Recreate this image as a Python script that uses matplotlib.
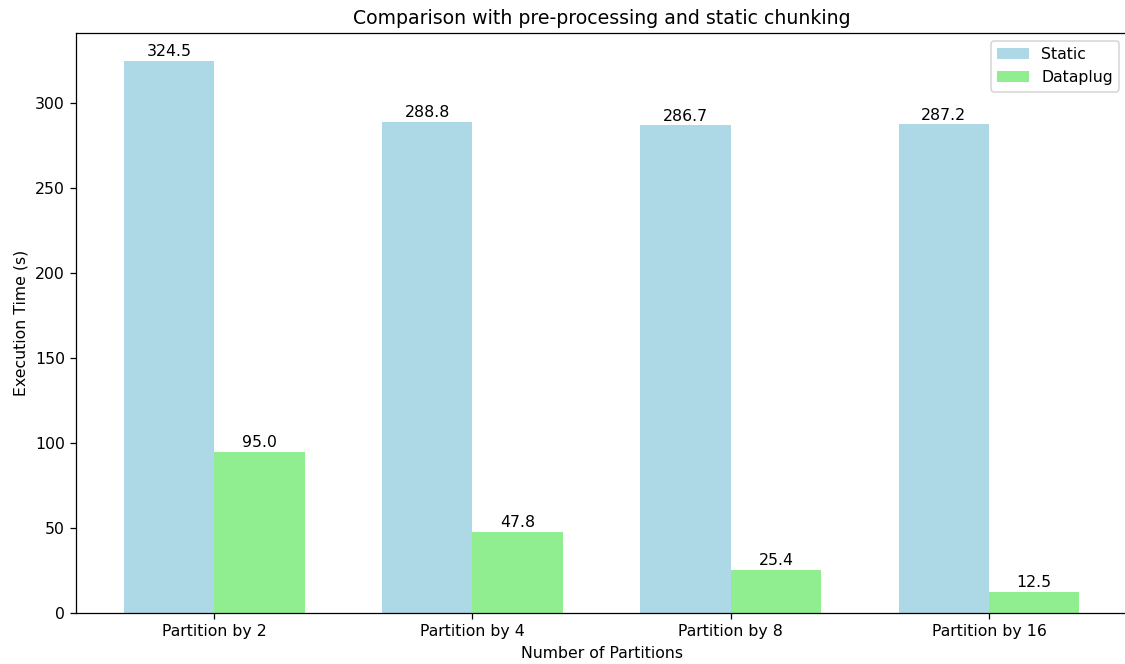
import numpy as np
import matplotlib.pyplot as plt

partitions = ['Partition by 2', 'Partition by 4', 'Partition by 8', 'Partition by 16']
static_times = [324.5, 288.8, 286.7, 287.2]
dataplug_times = [95.0, 47.8, 25.4, 12.5]

x = np.arange(len(partitions))
width = 0.35

fig, ax = plt.subplots(figsize=(1125 / 113.5, 664 / 113.5), dpi=113.5)
b1 = ax.bar(x - width / 2, static_times, width, label='Static', color='lightblue')
b2 = ax.bar(x + width / 2, dataplug_times, width, label='Dataplug', color='lightgreen')

for bars in (b1, b2):
    for bar in bars:
        h = bar.get_height()
        ax.annotate(f'{h:.1f}', xy=(bar.get_x() + bar.get_width() / 2, h),
                    xytext=(0, 1), textcoords='offset points',
                    ha='center', va='bottom')

ax.set_xlabel('Number of Partitions')
ax.set_ylabel('Execution Time (s)')
ax.set_title('Comparison with pre-processing and static chunking')
ax.set_xticks(x)
ax.set_xticklabels(partitions)
ax.legend()

fig.subplots_adjust(left=0.0675, right=1.002, top=0.950, bottom=0.0764)
fig.savefig('out.png', dpi=113.5)
